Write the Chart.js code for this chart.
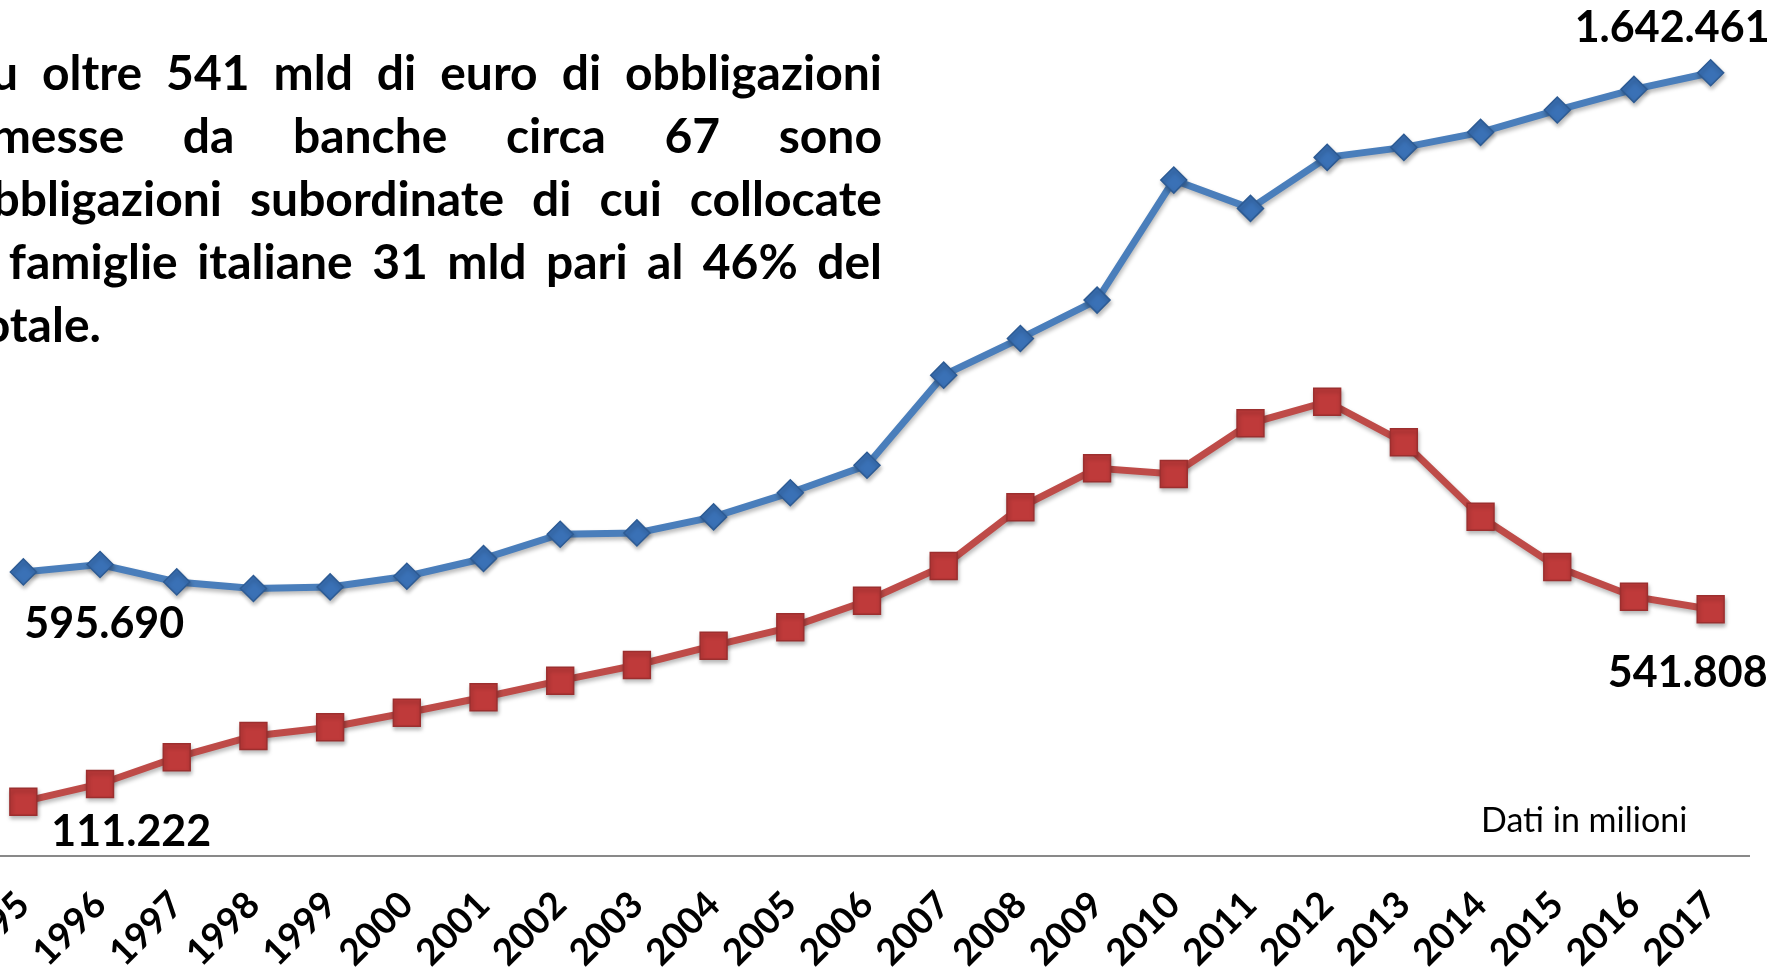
<!DOCTYPE html>
<html lang="it">
<head>
<meta charset="utf-8">
<title>Obbligazioni</title>
<script src="https://cdn.jsdelivr.net/npm/chart.js@4.4.1/dist/chart.umd.min.js"></script>
<style>
  html, body { margin: 0; padding: 0; background: #ffffff; overflow: hidden; width: 1783px; height: 973px; }
  #wrap { position: absolute; left: 0; top: 0; width: 1783px; height: 973px; overflow: hidden; }
  #chart { position: absolute; left: -15px; top: 0; }
  #note { position: absolute; left: -35px; top: 40px; width: 917px; font-family: Lato, sans-serif; font-weight: 700; font-size: 48px; line-height: 63px; color: #000; }
  #note .j { text-align: justify; text-align-last: justify; white-space: nowrap; }
  #unit { position: absolute; left: 1481px; top: 799px; font-family: Lato, sans-serif; font-weight: 400; font-size: 34px; line-height: 40px; color: #000; white-space: nowrap; }
</style>
</head>
<body>
<div id="wrap">
  <canvas id="chart" width="1798" height="973"></canvas>
  <div id="note">
    <div class="j">Su oltre 541 mld di euro di obbligazioni</div>
    <div class="j">emesse da banche circa 67 sono</div>
    <div class="j">obbligazioni subordinate di cui collocate</div>
    <div class="j">a famiglie italiane 31 mld pari al 46% del</div>
    <div>totale.</div>
  </div>
  <div id="unit">Dati in milioni</div>
</div>
<script>
// ---- data ----
const years = ['1995','1996','1997','1998','1999','2000','2001','2002','2003','2004','2005','2006',
               '2007','2008','2009','2010','2011','2012','2013','2014','2015','2016','2017'];
const totalBonds = [595690, 611220, 574720, 560870, 564230, 586670, 623800, 674780, 677500, 711070,
                    761830, 819520, 1008310, 1085300, 1165650, 1417380, 1358010, 1464980, 1485960,
                    1517430, 1564210, 1607630, 1642461];
const bankBonds = [111222, 150840, 210590, 258260, 277730, 310410, 344870, 382020, 417160, 460350,
                   501530, 561060, 638720, 770080, 857370, 844610, 958080, 1006420, 915550,
                   749050, 636480, 570010, 541808];
const labelledPoints = [0, 22];

function itNumber(v) {
  return String(Math.round(v)).replace(/\B(?=(\d{3})+(?!\d))/g, '.');
}

// label placement (style only): offsets from the point, per dataset / index
const labelStyle = {
  0: { 0: { dx: 1, dy: 66, align: 'left' }, 22: { dx: 59, dy: -31, align: 'right' } },
  1: { 0: { dx: 28, dy: 44, align: 'left' }, 22: { dx: 57, dy: 78, align: 'right' } }
};

const endLabels = {
  id: 'endLabels',
  afterDatasetsDraw(chart) {
    const ctx = chart.ctx;
    ctx.save();
    ctx.font = '700 43px Lato, sans-serif';
    ctx.fillStyle = '#000';
    ctx.textBaseline = 'alphabetic';
    chart.data.datasets.forEach((ds, di) => {
      const meta = chart.getDatasetMeta(di);
      labelledPoints.forEach(i => {
        const pt = meta.data[i];
        const st = labelStyle[di][i];
        ctx.textAlign = st.align;
        ctx.fillText(itNumber(ds.data[i]), pt.x + st.dx, pt.y + st.dy);
      });
    });
    ctx.restore();
  }
};

const markerShadow = {
  id: 'markerShadow',
  beforeDatasetDraw(chart) {
    const ctx = chart.ctx;
    ctx.save();
    ctx.shadowColor = 'rgba(0,0,0,0.28)';
    ctx.shadowBlur = 4;
    ctx.shadowOffsetX = 1;
    ctx.shadowOffsetY = 3;
  },
  afterDatasetDraw(chart) {
    chart.ctx.restore();
  }
};

function build() {
  new Chart(document.getElementById('chart'), {
    type: 'line',
    data: {
      labels: years,
      datasets: [
        {
          label: 'Totale obbligazioni',
          data: totalBonds,
          yAxisID: 'y',
          borderColor: '#4a7ebb',
          borderWidth: 7,
          tension: 0,
          pointStyle: 'rectRot',
          pointRadius: 13,
          pointHoverRadius: 13,
          pointBackgroundColor: '#3a71b6',
          pointBorderColor: '#2d5b94',
          pointBorderWidth: 1.5,
          clip: false
        },
        {
          label: 'Obbligazioni bancarie',
          data: bankBonds,
          yAxisID: 'y2',
          borderColor: '#be4b48',
          borderWidth: 7,
          tension: 0,
          pointStyle: 'rect',
          pointRadius: 19,
          pointHoverRadius: 19,
          pointBackgroundColor: '#bf3a3a',
          pointBorderColor: '#9c2f2f',
          pointBorderWidth: 1.5,
          clip: false
        }
      ]
    },
    options: {
      responsive: false,
      animation: false,
      events: [],
      layout: { padding: { left: 0, top: 0, bottom: 0, right: 34 }, autoPadding: false },
      plugins: { legend: { display: false }, title: { display: false }, tooltip: { enabled: false } },
      scales: {
        x: {
          type: 'category',
          offset: true,
          grid: { display: false, drawTicks: false },
          border: { display: true, color: '#898989', width: 2 },
          ticks: {
            autoSkip: false,
            minRotation: 45,
            maxRotation: 45,
            padding: 27,
            color: '#000',
            font: { family: 'Lato', weight: 'bold', size: 37 }
          },
          afterFit(scale) {
            scale.height = 117;
            scale.paddingLeft = 0;
            scale.paddingRight = 0;
          }
        },
        y: { display: false, min: 0, max: 1795000 },
        y2: { display: false, min: -10300, max: 1905400 }
      }
    },
    plugins: [markerShadow, endLabels]
  });
}

if (document.fonts && document.fonts.load) {
  Promise.all([
    document.fonts.load('700 37px Lato'),
    document.fonts.load('700 43px Lato'),
    document.fonts.load('700 48px Lato'),
    document.fonts.load('400 34px Lato')
  ]).then(build, build);
} else {
  build();
}
</script>
</body>
</html>
